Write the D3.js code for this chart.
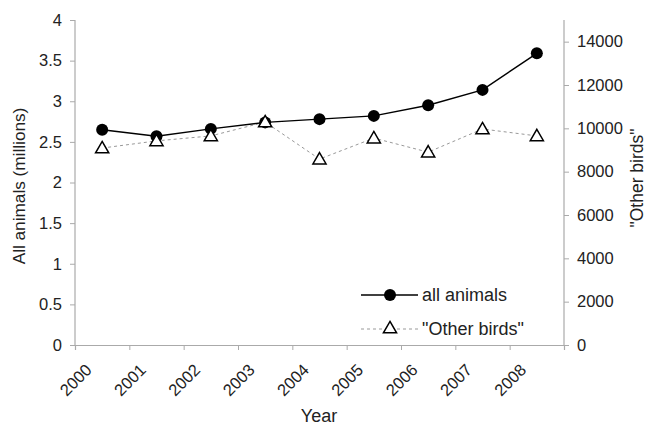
<!DOCTYPE html>
<html><head><meta charset="utf-8">
<script src="https://cdn.jsdelivr.net/npm/d3@7"></script>
<style>body{margin:0;background:#fff}svg{display:block}text{font-family:"Liberation Sans",Arial,sans-serif;fill:#222}</style>
</head><body><div id="chart"></div>
<script>
const years = ["2000","2001","2002","2003","2004","2005","2006","2007","2008"];
const allAnimals = [2.65, 2.57, 2.66, 2.74, 2.78, 2.82, 2.95, 3.14, 3.59];
const otherBirds = [9090, 9420, 9650, 10290, 8580, 9550, 8900, 9970, 9650];
const leftTicks = [0, 0.5, 1, 1.5, 2, 2.5, 3, 3.5, 4];
const rightTicks = [0, 2000, 4000, 6000, 8000, 10000, 12000, 14000];

const W = 647, H = 430;
const svg = d3.select("#chart").append("svg").attr("width", W).attr("height", H);
const x = d3.scaleBand().domain(years).range([75, 564]);
const yL = d3.scaleLinear().domain([0, 4]).range([345, 20]);
const yR = d3.scaleLinear().domain([0, 15000]).range([345, 20]);
const axisCol = "#aaa";

const gL = svg.append("g").attr("transform", "translate(75,0)")
  .call(d3.axisLeft(yL).tickValues(leftTicks).tickSize(5).tickPadding(8).tickFormat(d3.format("")));
const gR = svg.append("g").attr("transform", "translate(564,0)")
  .call(d3.axisRight(yR).tickValues(rightTicks).tickSize(5).tickPadding(8).tickFormat(d3.format("d")));
const xb = d3.scaleLinear().domain([0, years.length]).range([75, 564]);
const gX = svg.append("g").attr("transform", "translate(0,345)")
  .call(d3.axisBottom(xb).tickValues(d3.range(0, years.length + 1)).tickSize(5).tickFormat(""));
[gL, gR, gX].forEach(g => {
  g.select(".domain").attr("stroke", axisCol).attr("stroke-width", 1.2);
  g.selectAll(".tick line").attr("stroke", axisCol);
  g.selectAll(".tick text").style("font-size", "16.5px").attr("fill", "#222");
});
gL.select(".domain").attr("d", "M0,345V20");
gR.select(".domain").attr("d", "M0,345V20");

svg.append("g").selectAll("text").data(years).join("text")
  .attr("transform", d => `translate(${x(d) + x.bandwidth()/2 - 9.5},371) rotate(-45)`)
  .attr("text-anchor", "end")
  .style("font-size", "16.5px")
  .text(d => d);

svg.append("text").attr("x", 319).attr("y", 422).attr("text-anchor", "middle").style("font-size", "18px").text("Year");
svg.append("text").attr("transform", "translate(25,186) rotate(-90)").attr("text-anchor", "middle").style("font-size", "17.2px").text("All animals (millions)");
svg.append("text").attr("transform", "translate(643,178) rotate(-90)").attr("text-anchor", "middle").style("font-size", "17.5px").text("\"Other birds\"");

const cx = d => x(d) + x.bandwidth() / 2;
const tri = d3.symbol().type(d3.symbolTriangle).size(75);

svg.append("path").datum(otherBirds)
  .attr("d", d3.line().x((d, i) => cx(years[i])).y(d => yR(d)))
  .attr("fill", "none").attr("stroke", "#999").attr("stroke-width", 1).attr("stroke-dasharray", "3,3");
svg.append("path").datum(allAnimals)
  .attr("d", d3.line().x((d, i) => cx(years[i])).y(d => yL(d)))
  .attr("fill", "none").attr("stroke", "#000").attr("stroke-width", 1.5);
svg.append("g").selectAll("circle").data(allAnimals).join("circle")
  .attr("cx", (d, i) => cx(years[i])).attr("cy", d => yL(d)).attr("r", 6).attr("fill", "#000");
svg.append("g").selectAll("path").data(otherBirds).join("path")
  .attr("d", tri)
  .attr("transform", (d, i) => `translate(${cx(years[i])},${yR(d) + 1})`)
  .attr("fill", "#fff").attr("stroke", "#000").attr("stroke-width", 1.5);

const lg = svg.append("g");
lg.append("line").attr("x1", 361).attr("x2", 418).attr("y1", 295).attr("y2", 295).attr("stroke", "#000").attr("stroke-width", 1.5);
lg.append("circle").attr("cx", 390).attr("cy", 295).attr("r", 6).attr("fill", "#000");
lg.append("text").attr("x", 422).attr("y", 301).style("font-size", "18px").text("all animals");
lg.append("line").attr("x1", 361).attr("x2", 418).attr("y1", 329).attr("y2", 329).attr("stroke", "#999").attr("stroke-width", 1).attr("stroke-dasharray", "3,3");
lg.append("path").attr("d", tri).attr("transform", "translate(390,329)").attr("fill", "#fff").attr("stroke", "#000").attr("stroke-width", 1.5);
lg.append("text").attr("x", 422).attr("y", 335).style("font-size", "18px").text("\"Other birds\"");
</script></body></html>
